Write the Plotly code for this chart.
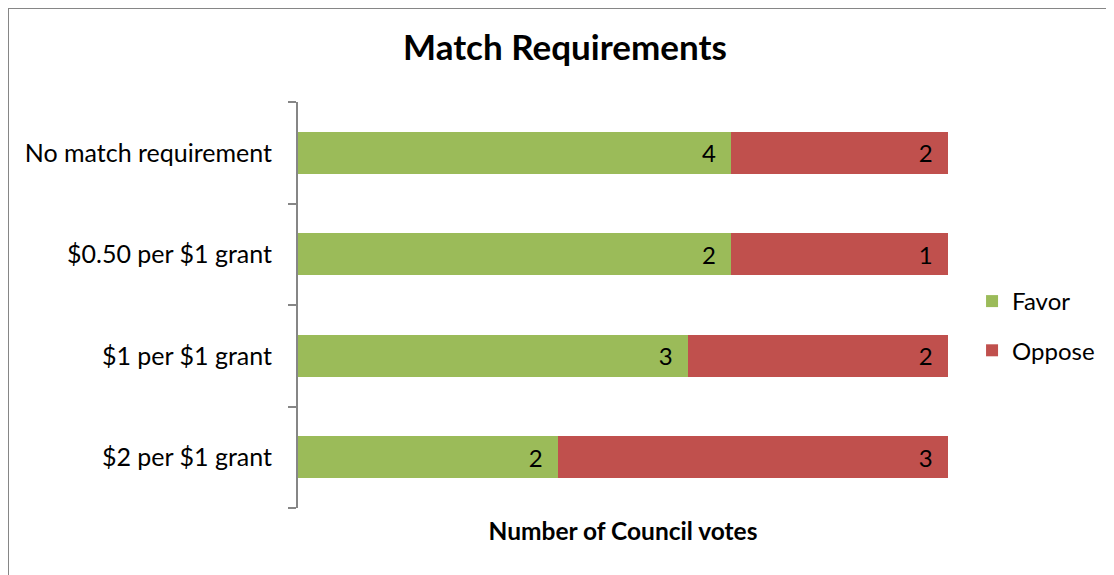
import plotly.graph_objects as go

categories = ["$2 per $1 grant", "$1 per $1 grant", "$0.50 per $1 grant", "No match requirement"]
favor = [2, 3, 2, 4]
oppose = [3, 2, 1, 2]

FONT = "Lato, 'Open Sans', sans-serif"
PAD = "\u00a0\u00a0"

fig = go.Figure()
fig.add_trace(go.Bar(y=categories, x=favor, name="Favor", orientation="h",
                     marker=dict(color="#9BBB59", line=dict(width=0)),
                     text=favor, texttemplate="%{text}" + PAD,
                     textposition="inside", insidetextanchor="end",
                     textfont=dict(size=24, color="black"), legendgroup="f"))
fig.add_trace(go.Bar(y=categories, x=oppose, name="Oppose", orientation="h",
                     marker=dict(color="#C0504D", line=dict(width=0)),
                     text=oppose, texttemplate="%{text}" + PAD,
                     textposition="inside", insidetextanchor="end",
                     textfont=dict(size=24, color="black"), legendgroup="o"))

# page body adds ~8px offset, so margins are shifted by 8px
fig.update_layout(
    width=1114, height=575,
    barmode="stack", barnorm="percent", bargap=0.59,
    plot_bgcolor="white", paper_bgcolor="white",
    font=dict(family=FONT, size=24, color="black"),
    margin=dict(l=290, r=174, t=94, b=75),
    title=dict(text="<b>Match Requirements</b>", x=557 / 1114, xanchor="center",
               y=1 - 40 / 575, yanchor="middle", font=dict(size=35)),
    legend=dict(x=1.037, y=(500 - 318) / 406, xanchor="left", yanchor="middle",
                traceorder="grouped", tracegroupgap=15, font=dict(size=24)),
    uniformtext=dict(mode="show", minsize=20),
)
fig.update_xaxes(range=[0, 100], showticklabels=False, showgrid=False, zeroline=False,
                 showline=False, ticks="",
                 title=dict(text="<b>Number of Council votes</b>", font=dict(size=24.5), standoff=14))
fig.update_yaxes(showgrid=False, showline=True, linecolor="#868686", linewidth=2,
                 ticks="outside", ticklen=8, tickcolor="#868686", tickwidth=2,
                 tickson="boundaries", ticklabelstandoff=19, tickfont=dict(size=25))

# chart border (partly cut off at right and bottom)
fig.add_shape(type="rect", xref="paper", yref="paper",
              x0=(0 - 290) / 650, x1=2, y0=-1, y1=(500 - 0) / 406,
              line=dict(color="#868686", width=2), layer="below")

fig.write_html("out.html")
